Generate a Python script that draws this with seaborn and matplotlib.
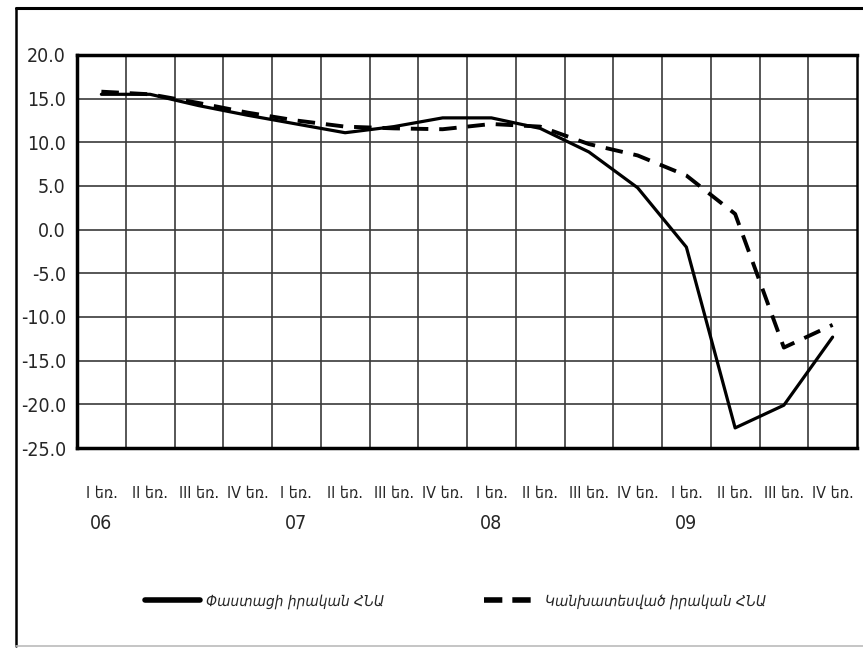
import numpy as np
import pandas as pd
import matplotlib
matplotlib.use('Agg')
import matplotlib.pyplot as plt
from matplotlib.lines import Line2D
import seaborn as sns

# datos
quarters = ['I եռ.', 'II եռ.', 'III եռ.', 'IV եռ.'] * 4
years = ['06', '07', '08', '09']
actual = [15.5, 15.5, 14.2, 13.1, 12.1, 11.1, 11.8, 12.8, 12.8, 11.6, 8.9, 4.8, -2.0, -22.7, -20.1, -12.3]
forecast = [15.8, 15.5, 14.5, 13.4, 12.5, 11.8, 11.6, 11.5, 12.1, 11.8, 9.8, 8.5, 6.2, 1.8, -13.5, -10.9]
yticks = [20, 15, 10, 5, 0, -5, -10, -15, -20, -25]
label_actual = 'Փաստացի իրական ՀՆԱ'
label_forecast = 'Կանխատեսված իրական ՀՆԱ'

sns.set_style('white')
plt.rcParams['font.family'] = ['DejaVu Sans']
plt.rcParams['font.stretch'] = 'condensed'

pos = np.arange(len(quarters))
data = pd.DataFrame({'pos': pos, 'actual': actual, 'forecast': forecast})

fig = plt.figure(figsize=(8.63, 6.48), dpi=100)
ax = fig.add_axes([77 / 863, 1 - 448 / 648, (857 - 77) / 863, (448 - 55) / 648])

sns.lineplot(data=data, x='pos', y='actual', ax=ax, color='black', lw=2.3, label=label_actual)
sns.lineplot(data=data, x='pos', y='forecast', ax=ax, color='black', lw=2.8,
             label=label_forecast)
ax.lines[1].set_dashes((4.5, 2.8))

ax.set_xlim(-0.5, len(quarters) - 0.5)
ax.set_ylim(-25, 20)
ax.set_yticks(yticks)
ax.set_yticklabels([f'{v:.1f}' for v in yticks], fontsize=14)
ax.set_xticks(pos)
ax.set_xticklabels(quarters, fontsize=11.5)
ax.set_xticks(pos[:-1] + 0.5, minor=True)
ax.tick_params(axis='x', which='both', length=0, pad=27)
ax.tick_params(axis='y', length=5, width=2, direction='out', pad=3)
ax.set_xlabel('')
ax.set_ylabel('')

ax.grid(axis='y', which='major', color='#3a3a3a', lw=1.2)
ax.grid(axis='x', which='minor', color='#3a3a3a', lw=1.2)
ax.set_axisbelow(True)
for s in ax.spines.values():
    s.set_visible(True)
    s.set_color('black')
    s.set_linewidth(2.5)
ax.spines['right'].set_linewidth(1.8)

for i, y in enumerate(years):
    ax.text(i * 4, -0.193, y, transform=ax.get_xaxis_transform(), ha='center', va='center',
            fontsize=14)

ax.legend_.remove()
handles = [Line2D([], [], color='black', lw=4),
           Line2D([], [], color='black', lw=4, dashes=(3.3, 1.8))]
leg = fig.legend(handles, [label_actual, label_forecast], loc='center', ncol=2,
                 bbox_to_anchor=(0.528, 1 - 601 / 648), frameon=False, handlelength=3.6,
                 handletextpad=0.4, columnspacing=6.5, prop={'style': 'italic', 'size': 11})

# marco exterior
fig.add_artist(Line2D([16 / 863, 1], [1 - 8 / 648] * 2, color='black', lw=2.2))
fig.add_artist(Line2D([16 / 863] * 2, [1 - 8 / 648, 1 - 646 / 648], color='black', lw=1.8))
fig.add_artist(Line2D([16 / 863, 1], [1 - 646 / 648] * 2, color='#bbbbbb', lw=1.2))

fig.savefig('out.png', dpi=100)
